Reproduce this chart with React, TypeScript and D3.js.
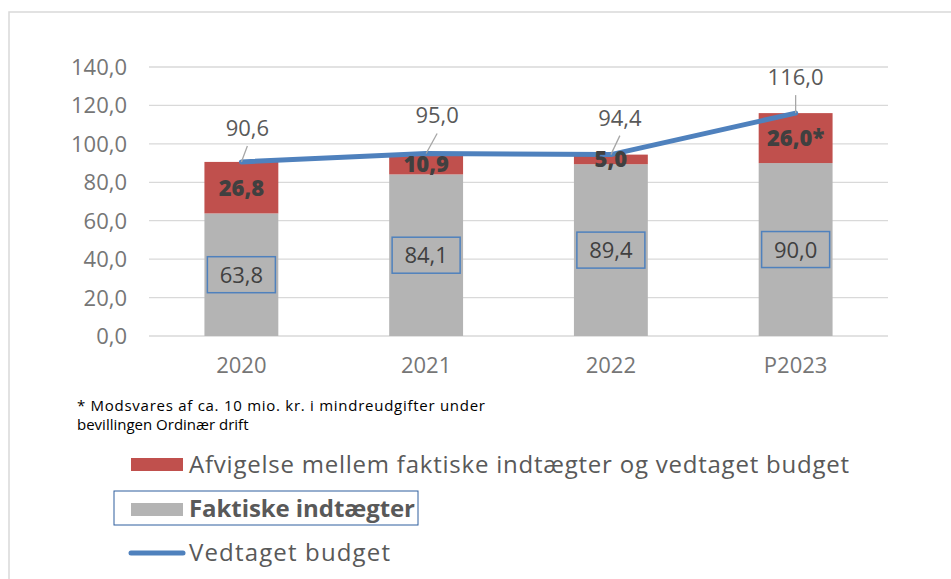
import React from "react";
import * as d3 from "d3";

const categories = ["2020", "2021", "2022", "P2023"];
const faktiske = [63.8, 84.1, 89.4, 90.0];
const afvigelse = [26.8, 10.9, 5.0, 26.0];
const afvigelseLabels = ["26,8", "10,9", "5,0", "26,0*"];
const budget = [90.6, 95.0, 94.4, 116.0];
const yTicks = [0, 20, 40, 60, 80, 100, 120, 140];
const legendLabels = [
  "Afvigelse mellem faktiske indtægter og vedtaget budget",
  "Faktiske indtægter",
  "Vedtaget budget",
];
const footnote = [
  "* Modsvares af ca. 10 mio. kr. i mindreudgifter under",
  "bevillingen Ordinær drift",
];
const budgetLabelOffset = [
  [6, -26],
  [11, -30],
  [9, -29],
  [0, -28],
];

const W = 951;
const H = 579;
const FONT = "'Open Sans', 'Noto Sans', sans-serif";
const RED = "#c0504d";
const GREY = "#b4b4b4";
const BLUE = "#4f81bd";

const fmt = (v: number) => v.toFixed(1).replace(".", ",");

export default function App() {
  const x = d3.scaleBand<string>().domain(categories).range([149, 888]).paddingInner(0.6).paddingOuter(0.3);
  const y = d3.scaleLinear().domain([0, 140]).range([336, 67]);
  const bw = x.bandwidth();

  const rows = categories.map((c, i) => ({ cat: c, faktiske: faktiske[i], afvigelse: afvigelse[i] }));
  const stack = d3.stack<any>().keys(["faktiske", "afvigelse"]);
  const series = stack(rows);
  const colors = [GREY, RED];

  const cx = (c: string) => (x(c) as number) + bw / 2;
  const line = d3
    .line<number>()
    .x((_, i) => cx(categories[i]))
    .y((d) => y(d));

  return (
    <svg
      width={W}
      height={H}
      style={{ position: "absolute", left: 0, top: 0, background: "#fff" }}
      fontFamily={FONT}
    >
      <rect x={9} y={12} width={1000} height={700} fill="#fff" stroke="#d9d9d9" strokeWidth={1.5} />
      {yTicks.map((t) => (
        <line key={t} x1={149} x2={888} y1={y(t)} y2={y(t)} stroke="#d9d9d9" strokeWidth={1.3} />
      ))}
      {yTicks.map((t) => (
        <text key={"l" + t} x={127} y={y(t) + 8} textAnchor="end" fontSize={22} fill="#767676">
          {fmt(t)}
        </text>
      ))}
      {series.map((s, si) =>
        s.map((d, i) => (
          <rect
            key={si + "-" + i}
            x={x(categories[i])}
            width={bw}
            y={y(d[1])}
            height={y(d[0]) - y(d[1])}
            fill={colors[si]}
          />
        ))
      )}
      {categories.map((c) => (
        <text key={c} x={cx(c)} y={373} textAnchor="middle" fontSize={22} fill="#767676">
          {c}
        </text>
      ))}
      {series[0].map((d, i) => {
        const yc = (y(d[0]) + y(d[1])) / 2;
        const bx = cx(categories[i]);
        return (
          <g key={"g" + i}>
            <rect x={bx - 34} y={yc - 18} width={68} height={36} fill="none" stroke={BLUE} strokeWidth={1.5} />
            <text x={bx} y={yc + 8} textAnchor="middle" fontSize={22} fill="#404040">
              {fmt(faktiske[i])}
            </text>
          </g>
        );
      })}
      <path d={line(budget) as string} fill="none" stroke={BLUE} strokeWidth={5} strokeLinecap="round" strokeLinejoin="round" />
      {series[1].map((d, i) => {
        const yc = (y(d[0]) + y(d[1])) / 2;
        return (
          <text key={"r" + i} x={cx(categories[i])} y={yc + 8} textAnchor="middle" fontSize={22} fontWeight={800} fill="#404040">
            {afvigelseLabels[i]}
          </text>
        );
      })}
      {budget.map((v, i) => {
        const px = cx(categories[i]);
        const py = y(v);
        const [dx, dy] = budgetLabelOffset[i];
        const lx = px + dx;
        const ly = py + dy;
        return (
          <g key={"b" + i}>
            <line x1={px} y1={py} x2={lx} y2={ly + 10} stroke="#a6a6a6" strokeWidth={1.3} />
            <text x={lx} y={ly} textAnchor="middle" fontSize={22} fill="#595959">
              {fmt(v)}
            </text>
          </g>
        );
      })}
      {footnote.map((t, i) => (
        <text
          key={"f" + i}
          x={77}
          y={411 + i * 18.5}
          fontSize={15}
          fill="#000"
          textLength={i === 0 ? 408 : undefined}
        >
          {t}
        </text>
      ))}
      <rect x={131} y={458} width={52} height={13} fill={RED} />
      <text x={189} y={473} fontSize={24} fill="#595959" textLength={660}>
        {legendLabels[0]}
      </text>
      <rect x={114} y={491} width={304} height={34} fill="none" stroke="#2f5f9e" strokeWidth={1} />
      <rect x={131} y={503} width={52} height={13} fill={GREY} />
      <text x={189} y={517} fontSize={24} fontWeight={700} fill="#595959" textLength={226}>
        {legendLabels[1]}
      </text>
      <line x1={131} x2={183} y1={553} y2={553} stroke={BLUE} strokeWidth={5} strokeLinecap="round" />
      <text x={189} y={561} fontSize={24} fill="#595959" textLength={201}>
        {legendLabels[2]}
      </text>
    </svg>
  );
}
